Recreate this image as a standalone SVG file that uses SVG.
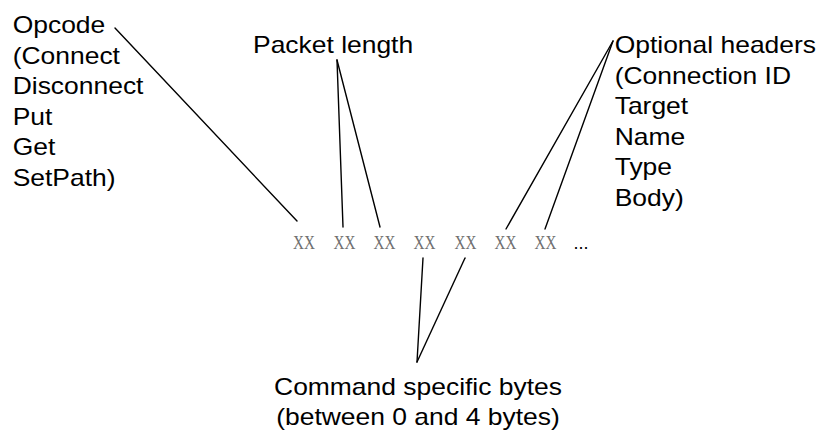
<svg xmlns="http://www.w3.org/2000/svg" width="820" height="430" viewBox="0 0 820 430">
  <style>
    .lbl { font-family: "Liberation Sans", Arial, sans-serif; font-size: 23px; fill: #000; }
    .byte { font-family: "Liberation Serif", "Times New Roman", serif; font-size: 19px; fill: #707070; text-anchor: middle; }
    .dots { font-family: "Liberation Sans", Arial, sans-serif; font-size: 18px; fill: #000; text-anchor: middle; }
    .conn line { stroke: #000; stroke-width: 1.4; stroke-linecap: round; }
  </style>
  <rect width="820" height="430" fill="#fff"/>

  <g id="connectors" class="conn">
    <line x1="115" y1="28" x2="297" y2="221"/>
    <line x1="337" y1="60" x2="343" y2="227"/>
    <line x1="337" y1="60" x2="380" y2="227"/>
    <line x1="613" y1="41" x2="506" y2="229"/>
    <line x1="613" y1="41" x2="545" y2="229"/>
    <line x1="423" y1="258" x2="417" y2="362"/>
    <line x1="465" y1="258" x2="417" y2="362"/>
  </g>

  <g id="opcode">
    <g transform="translate(12.7,0) scale(1.15,1)">
      <text class="lbl" x="0" y="33.3">Opcode</text>
      <text class="lbl" x="0" y="63.8">(Connect</text>
      <text class="lbl" x="0" y="94.3">Disconnect</text>
      <text class="lbl" x="0" y="124.8">Put</text>
      <text class="lbl" x="0" y="155.3">Get</text>
      <text class="lbl" x="0" y="185.8">SetPath)</text>
    </g>
  </g>

  <g id="packet-length">
    <g transform="translate(253,0) scale(1.15,1)">
      <text class="lbl" x="0" y="53.3">Packet length</text>
    </g>
  </g>

  <g id="optional-headers">
    <g transform="translate(614.7,0) scale(1.15,1)">
      <text class="lbl" x="0" y="53.5">Optional headers</text>
      <text class="lbl" x="0" y="84">(Connection ID</text>
      <text class="lbl" x="0" y="114.5">Target</text>
      <text class="lbl" x="0" y="145">Name</text>
      <text class="lbl" x="0" y="175.5">Type</text>
      <text class="lbl" x="0" y="206">Body)</text>
    </g>
  </g>

  <g id="command-bytes">
    <g transform="translate(418,0) scale(1.15,1)">
      <text class="lbl" x="0" y="395" text-anchor="middle">Command specific bytes</text>
      <text class="lbl" x="0" y="425" text-anchor="middle">(between 0 and 4 bytes)</text>
    </g>
  </g>

  <g id="bytes">
    <g transform="translate(304,249) scale(0.8,1)"><text class="byte" x="0" y="0">XX</text></g>
    <g transform="translate(344.5,249) scale(0.8,1)"><text class="byte" x="0" y="0">XX</text></g>
    <g transform="translate(384.5,249) scale(0.8,1)"><text class="byte" x="0" y="0">XX</text></g>
    <g transform="translate(424.5,249) scale(0.8,1)"><text class="byte" x="0" y="0">XX</text></g>
    <g transform="translate(465.5,249) scale(0.8,1)"><text class="byte" x="0" y="0">XX</text></g>
    <g transform="translate(505.5,249) scale(0.8,1)"><text class="byte" x="0" y="0">XX</text></g>
    <g transform="translate(545.5,249) scale(0.8,1)"><text class="byte" x="0" y="0">XX</text></g>
    <text class="dots" x="581" y="249">...</text>
  </g>
</svg>
